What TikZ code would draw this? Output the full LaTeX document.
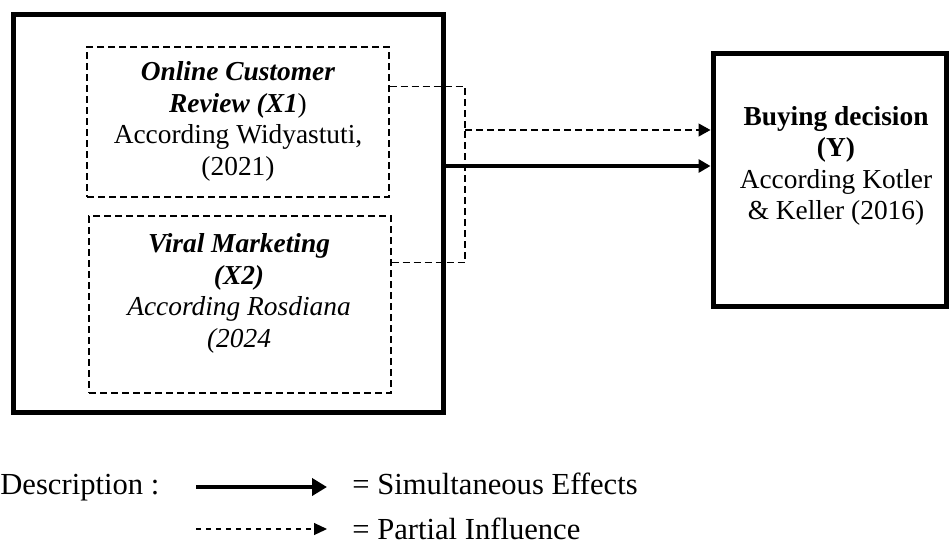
\documentclass[tikz,border=0pt]{standalone}
\usepackage{fontspec}
\setmainfont{Liberation Serif}
\usetikzlibrary{positioning,arrows.meta}

\begin{document}
\begin{tikzpicture}[x=0.5pt, y=-0.5pt,
    thickbox/.style={rectangle, draw=black, line width=2.5pt, inner sep=0pt},
    varbox/.style={rectangle, draw=black, line width=0.6pt, dash pattern=on 3.5pt off 2pt, inner sep=0pt, minimum width=151pt},
    boxtext/.style={align=center, inner sep=0pt, font=\fontsize{13.7}{15.8}\selectfont},
    legendtext/.style={inner sep=0pt, anchor=west, font=\fontsize{15.3}{17}\selectfont},
    simul/.style={line width=1.8pt, -{Triangle[length=6pt,width=6.5pt]}},
    partial/.style={line width=0.6pt, dash pattern=on 3.5pt off 2pt},
    legsimul/.style={line width=2.4pt, -{Triangle[length=7.5pt,width=8.5pt]}},
    legpartial/.style={line width=0.6pt, dash pattern=on 2.5pt off 2.5pt, -{Triangle[length=6.5pt,width=6pt]}}
   ]
   \useasboundingbox (0,0) rectangle (952,547);

   % variables X1, X2 and Y
   \node[thickbox, minimum width=215pt, minimum height=199pt] (outer) at (228,213) {};
   \node[varbox, minimum height=75pt]   (box1) at (238,122) {};
   \node[varbox, minimum height=88.5pt] (box2) at (240,304.5) {};
   \node[thickbox, minimum width=116.5pt, minimum height=126.5pt] (ybox) at (829.5,179.5) {};

   \node[boxtext] (text1) at (238,121.5) {\textbf{\textit{Online Customer}}\\ \textbf{\textit{Review (X1}})\\ According Widyastuti,\\ (2021)};
   \node[boxtext] (text2) at (239,293.5) {\textbf{\textit{Viral Marketing}}\\ \textbf{\textit{(X2)}}\\ \textit{According Rosdiana}\\ \textit{(2024}};
   \node[boxtext] (texty) at (836,166) {\textbf{Buying decision}\\ \textbf{(Y)}\\ According Kotler\\ \& Keller (2016)};

   % partial and simultaneous effects
   \coordinate (joint) at (465,130);
   \coordinate (simstart) at ([yshift=23.5pt]outer.east);
   \draw[partial] ([yshift=-20pt]box1.north east) -| (joint);
   \draw[partial] ([yshift=-23.5pt]box2.north east) -| (joint);
   \draw[partial, -{Triangle[length=6pt,width=6.5pt]}] (joint) -- (joint -| ybox.west);
   \draw[simul] (simstart) -- (simstart -| ybox.west);

   % legend
   \node[legendtext] (desc) at (0,488) {Description :};
   \coordinate (simA) at (196,487);
   \coordinate (simB) at (327,487);
   \coordinate (parA) at (196,529);
   \coordinate (parB) at (327,529);
   \draw[legsimul] (simA) -- (simB);
   \draw[legpartial] (parA) -- (parB);
   \node[legendtext] (simtext) at (352,484) {= Simultaneous Effects};
   \node[legendtext] (partext) at (352,529) {= Partial Influence};
\end{tikzpicture}
\end{document}
